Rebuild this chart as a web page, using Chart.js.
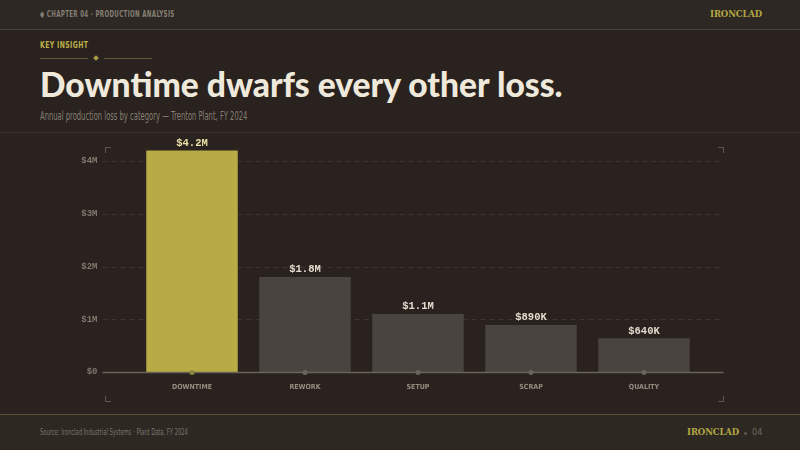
<!DOCTYPE html>
<html>
<head>
<meta charset="utf-8">
<script src="https://cdn.jsdelivr.net/npm/chart.js@4.4.1/dist/chart.umd.min.js"></script>
<style>
  html, body { margin: 0; padding: 0; }
  body { width: 800px; height: 450px; background: #29221e; position: relative; overflow: hidden; font-family: 'DejaVu Sans Condensed', sans-serif; }
  .hdr { position: absolute; left: 0; top: 0; width: 800px; height: 29px; background: #2d2823; border-bottom: 1px solid #4a4537; }
  .nar { transform-origin: 0 0; white-space: nowrap; }
  .chap { position: absolute; left: 40px; top: 9px; font-size: 9px; font-weight: bold; letter-spacing: 0.5px; color: #857f74; transform: scaleX(0.68); }
  .brand { position: absolute; left: 710px; top: 9px; font-family: 'DejaVu Serif', serif; font-size: 8.5px; font-weight: bold; letter-spacing: -0.1px; color: #b3a744; }
  .kicker { position: absolute; left: 40px; top: 40px; font-size: 9px; font-weight: bold; letter-spacing: 0.5px; color: #bdb047; transform: scaleX(0.76); }
  .rule { position: absolute; top: 58px; height: 1px; background: #5e5838; }
  .dia { position: absolute; left: 94px; top: 56px; width: 4px; height: 4px; background: #a89d44; transform: rotate(45deg); }
  h1 { position: absolute; left: 40px; top: 64px; margin: 0; font-family: Lato, sans-serif; font-weight: 900; font-size: 33.6px; color: #efe9dc; white-space: nowrap; }
  .sub { position: absolute; left: 40px; top: 108px; font-size: 13px; color: #857f74; transform: scaleX(0.58); }
  .sep { position: absolute; left: 0; top: 132px; width: 800px; height: 1px; background: #3a342f; }
  .cv { position: absolute; left: 0; top: 135px; width: 800px; height: 280px; }
  .cn { position: absolute; width: 5px; height: 5px; border-color: #5d574c; border-style: solid; border-width: 0; }
  .ftr { position: absolute; left: 0; top: 414px; width: 800px; height: 36px; background: #2e2823; border-top: 1px solid #5a5233; }
  .src { position: absolute; left: 40px; top: 13px; font-size: 8px; color: #7c766b; transform: scaleX(0.72); }
  .fbrand { position: absolute; left: 687px; top: 12px; font-family: 'DejaVu Serif', serif; font-size: 8.5px; font-weight: bold; letter-spacing: -0.1px; color: #b3a744; }
  .fpg { position: absolute; left: 752px; top: 12px; font-size: 9px; color: #6f695f; }
  .fdot { position: absolute; left: 744px; top: 17px; width: 3px; height: 3px; border-radius: 50%; background: #5f594f; }
</style>
</head>
<body>
<div class="hdr">
  <div class="chap nar">&#9670; CHAPTER 04 · PRODUCTION ANALYSIS</div>
  <div class="brand">IRONCLAD</div>
</div>
<div class="kicker nar">KEY INSIGHT</div>
<div class="rule" style="left:40px;width:48px"></div>
<div class="dia"></div>
<div class="rule" style="left:104px;width:48px"></div>
<h1>Downtime dwarfs every other loss.</h1>
<div class="sub nar">Annual production loss by category — Trenton Plant, FY 2024</div>
<div class="sep"></div>
<div class="cn" style="left:105px;top:147px;border-left-width:1px;border-top-width:1px"></div>
<div class="cn" style="left:718px;top:147px;border-right-width:1px;border-top-width:1px"></div>
<div class="cn" style="left:105px;top:396px;border-left-width:1px;border-bottom-width:1px"></div>
<div class="cn" style="left:718px;top:396px;border-right-width:1px;border-bottom-width:1px"></div>
<div class="cv"><canvas id="chart"></canvas></div>
<div class="ftr">
  <div class="src nar">Source: Ironclad Industrial Systems · Plant Data, FY 2024</div>
  <div class="fbrand">IRONCLAD</div>
  <div class="fdot"></div>
  <div class="fpg">04</div>
</div>
<script>
const categories = ['DOWNTIME', 'REWORK', 'SETUP', 'SCRAP', 'QUALITY'];
const lossValues = [4200000, 1800000, 1100000, 890000, 640000];
const barColors = ['#b8aa44', '#4a4440', '#4a4440', '#4a4440', '#4a4440'];
const yTicks = [0, 1000000, 2000000, 3000000, 4000000];

function money(v) {
  if (v === 0) return '$0';
  if (v >= 1000000) {
    const m = v / 1000000;
    return '$' + (yTicks.includes(v) ? m : m.toFixed(1)) + 'M';
  }
  return '$' + Math.round(v / 1000) + 'K';
}

const decor = {
  id: 'decor',
  beforeDatasetsDraw(chart) {
    const { ctx, chartArea, scales } = chart;
    ctx.save();
    ctx.strokeStyle = '#3e3731';
    ctx.lineWidth = 1;
    ctx.setLineDash([5, 4]);
    yTicks.forEach(t => {
      if (t === 0) return;
      const y = Math.round(scales.y.getPixelForValue(t)) + 0.5;
      ctx.beginPath();
      ctx.moveTo(chartArea.left - 33, y);
      ctx.lineTo(chartArea.right + 23, y);
      ctx.stroke();
    });
    ctx.restore();
  },
  afterDatasetsDraw(chart) {
    const { ctx, chartArea, scales } = chart;
    const y0 = Math.round(scales.y.getPixelForValue(0)) + 0.5;
    ctx.save();
    ctx.strokeStyle = '#6a6358';
    ctx.lineWidth = 1.5;
    ctx.beginPath();
    ctx.moveTo(chartArea.left - 33, y0);
    ctx.lineTo(chartArea.right + 23, y0);
    ctx.stroke();
    const meta = chart.getDatasetMeta(0);
    meta.data.forEach((bar, i) => {
      ctx.fillStyle = i === 0 ? '#8d8445' : '#6c655b';
      ctx.beginPath();
      ctx.arc(bar.x, y0, 2.5, 0, Math.PI * 2);
      ctx.fill();
      ctx.fillStyle = i === 0 ? '#ebe0a8' : '#e2dccf';
      ctx.font = 'bold 10.5px "Liberation Mono", "DejaVu Sans Mono", monospace';
      ctx.textAlign = 'center';
      ctx.textBaseline = 'bottom';
      ctx.fillText(money(lossValues[i]), bar.x, bar.y - 2);
    });
    ctx.restore();
  }
};

new Chart(document.getElementById('chart'), {
  type: 'bar',
  data: {
    labels: categories,
    datasets: [{
      data: lossValues,
      backgroundColor: barColors,
      borderWidth: 0,
      categoryPercentage: 0.9,
      barPercentage: 0.9
    }]
  },
  options: {
    responsive: true,
    maintainAspectRatio: false,
    animation: false,
    layout: { padding: { left: 75.5, right: 99.5, top: 5, bottom: 3 } },
    plugins: { legend: { display: false }, tooltip: { enabled: false } },
    scales: {
      x: {
        grid: { display: false, drawTicks: false },
        border: { display: false },
        ticks: {
          color: '#948e82',
          padding: 11,
          font: { family: "'DejaVu Sans Condensed', sans-serif", size: 7, weight: 'bold' }
        },
        afterFit(s) { s.height = 40; }
      },
      y: {
        min: 0,
        max: 4400000,
        grid: { display: false, drawTicks: false },
        border: { display: false },
        afterBuildTicks(s) { s.ticks = yTicks.map(v => ({ value: v })); },
        ticks: {
          color: '#7f796e',
          padding: 38,
          font: { family: "'Liberation Mono', 'DejaVu Sans Mono', monospace", size: 9, weight: 'bold' },
          callback: v => money(v)
        },
        afterFit(s) { s.width = 60; s.paddingTop = 0; s.paddingBottom = 0; }
      }
    }
  },
  plugins: [decor]
});
</script>
</body>
</html>
